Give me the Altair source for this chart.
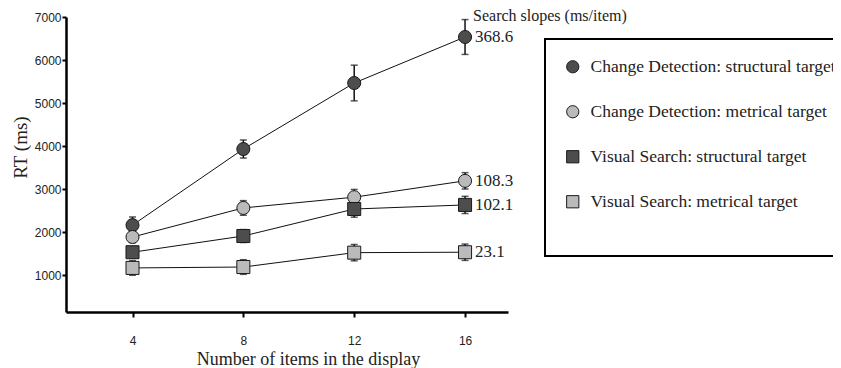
import altair as alt
import pandas as pd

items = [4, 8, 12, 16]
series_names = [
    "Change Detection: structural target",
    "Change Detection: metrical target",
    "Visual Search: structural target",
    "Visual Search: metrical target",
]
cd_structural = [2160, 3930, 5465, 6535]
cd_structural_err = [190, 210, 415, 405]
cd_metrical = [1884, 2560, 2810, 3190]
cd_metrical_err = [130, 170, 180, 190]
vs_structural = [1530, 1907, 2535, 2630]
vs_structural_err = [130, 150, 190, 200]
vs_metrical = [1165, 1186, 1520, 1530]
vs_metrical_err = [170, 170, 190, 190]
slope_labels = ["368.6", "108.3", "102.1", "23.1"]
fills = ["#4d4d4d", "#bababa", "#4d4d4d", "#bababa"]
shapes = ["circle", "circle", "square", "square"]

values = [cd_structural, cd_metrical, vs_structural, vs_metrical]
errors = [cd_structural_err, cd_metrical_err, vs_structural_err, vs_metrical_err]

rows = []
for name, vals, errs in zip(series_names, values, errors):
    for x, v, e in zip(items, vals, errs):
        rows.append({"series": name, "n": x, "rt": v, "lo": v - e, "hi": v + e})
df = pd.DataFrame(rows)

lab = pd.DataFrame({
    "series": series_names,
    "n": [items[-1]] * 4,
    "rt": [v[-1] for v in values],
    "label": slope_labels,
})
head = pd.DataFrame({"n": [items[-1]], "rt": [7000], "label": ["Search slopes (ms/item)"]})

xscale = alt.Scale(domain=[1.6, 17.55], nice=False, zero=False)
yscale = alt.Scale(domain=[140, 7000], nice=False, zero=False)
xaxis = alt.Axis(
    values=items, title="Number of items in the display", grid=False,
    labelFont="Liberation Sans", labelFontSize=12, labelColor="#222",
    labelPadding=18, tickSize=5, tickWidth=2, domainWidth=2.5, domainColor="black",
    tickColor="black", titleFont="Liberation Serif", titleFontSize=18,
    titleFontWeight="normal", titleColor="#222", titleX=242, titleY=52,
    titleBaseline="alphabetic",
)
yaxis = alt.Axis(
    values=[1000, 2000, 3000, 4000, 5000, 6000, 7000], format="d", title="RT (ms)", grid=False,
    labelFont="Liberation Sans", labelFontSize=12, labelColor="#222",
    labelPadding=1, tickSize=4, tickWidth=2, domainWidth=2.5, domainColor="black",
    tickColor="black", titleFont="Liberation Serif", titleFontSize=19,
    titleFontWeight="normal", titleColor="#222", titleX=-36, titleY=130,
)
X = alt.X("n:Q", scale=xscale, axis=xaxis)
Y = alt.Y("rt:Q", scale=yscale, axis=yaxis)

base = alt.Chart(df)
lines = base.mark_line(color="#111", strokeWidth=1).encode(x=X, y=Y, detail="series:N")
err = base.mark_rule(color="#111", strokeWidth=1.5).encode(
    x=X, y=alt.Y("lo:Q", scale=yscale, axis=yaxis), y2="hi:Q", detail="series:N")
cap_lo = base.mark_tick(color="#111", thickness=1.5, size=7, orient="horizontal").encode(
    x=X, y=alt.Y("lo:Q", scale=yscale, axis=yaxis))
cap_hi = base.mark_tick(color="#111", thickness=1.5, size=7, orient="horizontal").encode(
    x=X, y=alt.Y("hi:Q", scale=yscale, axis=yaxis))
pts = base.mark_point(filled=True, size=170, stroke="#1a1a1a", strokeWidth=1, opacity=1).encode(
    x=X, y=Y,
    color=alt.Color("series:N", scale=alt.Scale(domain=series_names, range=fills),
                    legend=alt.Legend(title=" ")),
    shape=alt.Shape("series:N", scale=alt.Scale(domain=series_names, range=shapes),
                    legend=alt.Legend(title=" ")),
)
labels = alt.Chart(lab).mark_text(
    align="left", baseline="middle", dx=10, font="Liberation Serif", fontSize=17, color="#222"
).encode(x=X, y=Y, text="label:N")
header = alt.Chart(head).mark_text(
    align="left", baseline="middle", dx=8, dy=-1, font="Liberation Serif", fontSize=16, color="#222"
).encode(x=X, y=Y, text="label:N")

chart = alt.layer(lines, err, cap_lo, cap_hi, pts, labels, header).properties(
    width=442, height=295,
    autosize=alt.AutoSizeParams(type="none"),
    padding={"left": 58, "top": 9, "right": 325, "bottom": 56},
).configure_view(stroke=None).configure_legend(
    orient="none", legendX=479, legendY=22, padding=19,
    strokeColor="black", strokeWidth=2, fillColor="white",
    labelFont="Liberation Serif", labelFontSize=17.5, labelColor="#222", labelLimit=400,
    symbolSize=150, symbolStrokeWidth=1, labelOffset=9, rowPadding=26,
    titleOrient="bottom", titleFontSize=18, titlePadding=9,
)

chart.save("out.html", embed_options={"renderer": "svg", "actions": False})
